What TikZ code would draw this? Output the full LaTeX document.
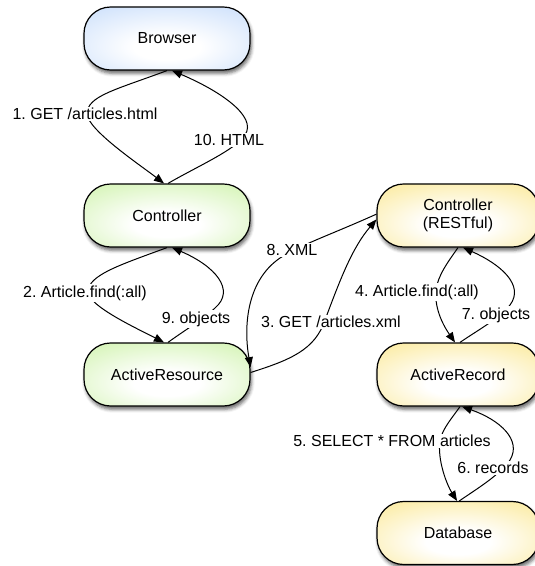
\documentclass[tikz,border=0pt]{standalone}
\usepackage{fontspec}
\setmainfont{Liberation Sans}
\usetikzlibrary{arrows.meta,shadows.blur}
\frenchspacing

% soft fills: colour at the rim, white towards the lower middle
\definecolor{bluefill}{RGB}{190,215,250}
\definecolor{greenfill}{RGB}{198,240,156}
\definecolor{yellowfill}{RGB}{250,228,128}
\pgfdeclareradialshading{blueglow}{\pgfpoint{0bp}{-8bp}}{color(0bp)=(white); color(10bp)=(white); color(46bp)=(bluefill); color(80bp)=(bluefill)}
\pgfdeclareradialshading{greenglow}{\pgfpoint{0bp}{-8bp}}{color(0bp)=(white); color(10bp)=(white); color(46bp)=(greenfill); color(80bp)=(greenfill)}
\pgfdeclareradialshading{yellowglow}{\pgfpoint{0bp}{-8bp}}{color(0bp)=(white); color(10bp)=(white); color(46bp)=(yellowfill); color(80bp)=(yellowfill)}

\tikzset{
  box/.style={draw=black, line width=0.9pt, rounded corners=20pt,
    minimum width=124.5pt, minimum height=47.25pt, align=center,
    font=\fontsize{12}{14}\selectfont,
    blur shadow={shadow xshift=1pt, shadow yshift=-2.5pt,
      shadow blur radius=2.5pt, shadow opacity=60}},
  client/.style={box, shading=blueglow},
  app/.style={box, shading=greenglow},
  service/.style={box, shading=yellowglow, minimum width=121.5pt},
  flow/.style={line width=0.75pt, -{Triangle[length=7.5pt,width=6pt]}},
  lbl/.style={fill=white, inner sep=1pt, font=\fontsize{12}{14}\selectfont},
}

\begin{document}
\begin{tikzpicture}[x=0.75pt,y=-0.75pt]
\useasboundingbox (0,0) rectangle (534,566);

% components
\node[client]  (browser) at (167,38.5)  {Browser};
\node[app]     (ctrl)    at (167,215.5) {Controller};
\node[app]     (ares)    at (167,374.5) {ActiveResource};
\node[service] (rest)    at (458,215.5) {Controller\\(RESTful)};
\node[service] (arec)    at (458,374.5) {ActiveRecord};
\node[service] (db)      at (458,533)   {Database};

% request / response flows
\draw[flow] (browser.south)
  .. controls (115,90) and (87,96) .. (87,114)
  .. controls (88,130) and (140,165) .. ([xshift=-2.25pt]ctrl.north);
\draw[flow] ([xshift=0.75pt]ctrl.north)
  .. controls (200,165) and (235,150) .. (245,135)
  .. controls (258,116) and (218,90) .. ([xshift=3.75pt]browser.south);

\draw[flow] (ctrl.south)
  .. controls (120,265) and (88,275) .. (88,292)
  .. controls (88,306) and (140,330) .. ([xshift=-2.25pt]ares.north);
\draw[flow] ([xshift=0.75pt]ares.north)
  .. controls (185,330) and (205,318) .. (215,308)
  .. controls (236,290) and (215,266) .. ([xshift=3.75pt]ctrl.south);

\draw[flow] ([yshift=1.5pt]ares.east)
  .. controls (290,360) and (315,350) .. (325,320)
  .. controls (340,280) and (352,248) .. ([yshift=-3pt]rest.west);
\draw[flow] ([yshift=1pt]rest.west)
  .. controls (330,235) and (300,245) .. (280,258)
  .. controls (245,282) and (244,330) .. ([yshift=5.5pt]ares.east);

\draw[flow] (rest.south)
  .. controls (448,262) and (438,275) .. (436,290)
  .. controls (434,310) and (445,328) .. ([xshift=-2.25pt]arec.north);
\draw[flow] ([xshift=1.5pt]arec.north)
  .. controls (478,330) and (500,318) .. (510,305)
  .. controls (525,285) and (500,264) .. ([xshift=3.75pt]rest.south);

\draw[flow] ([xshift=1.5pt]arec.south)
  .. controls (452,418) and (443,428) .. (440,440)
  .. controls (437,460) and (447,485) .. ([xshift=-0.75pt]db.north);
\draw[flow] ([xshift=1pt]db.north)
  .. controls (475,490) and (500,475) .. (510,460)
  .. controls (522,440) and (500,420) .. ([xshift=3pt]arec.south);

% step labels
\node[lbl] (t1)  at (85,114)  {1. GET /articles.html};
\node[lbl] (t10) at (229,140) {10. HTML};
\node[lbl] (t2)  at (85,293)  {2. Article.find(:all)};
\node[lbl] (t9)  at (196,319) {9. objects};
\node[lbl] (t3)  at (331,322) {3. GET /articles.xml};
\node[lbl] (t8)  at (292,250) {8. XML};
\node[lbl] (t4)  at (417,292) {4. Article.find(:all)};
\node[lbl] (t7)  at (496,315) {7. objects};
\node[lbl] (t5)  at (392,441) {5. SELECT * FROM articles};
\node[lbl] (t6)  at (493,468) {6. records};
\end{tikzpicture}
\end{document}
